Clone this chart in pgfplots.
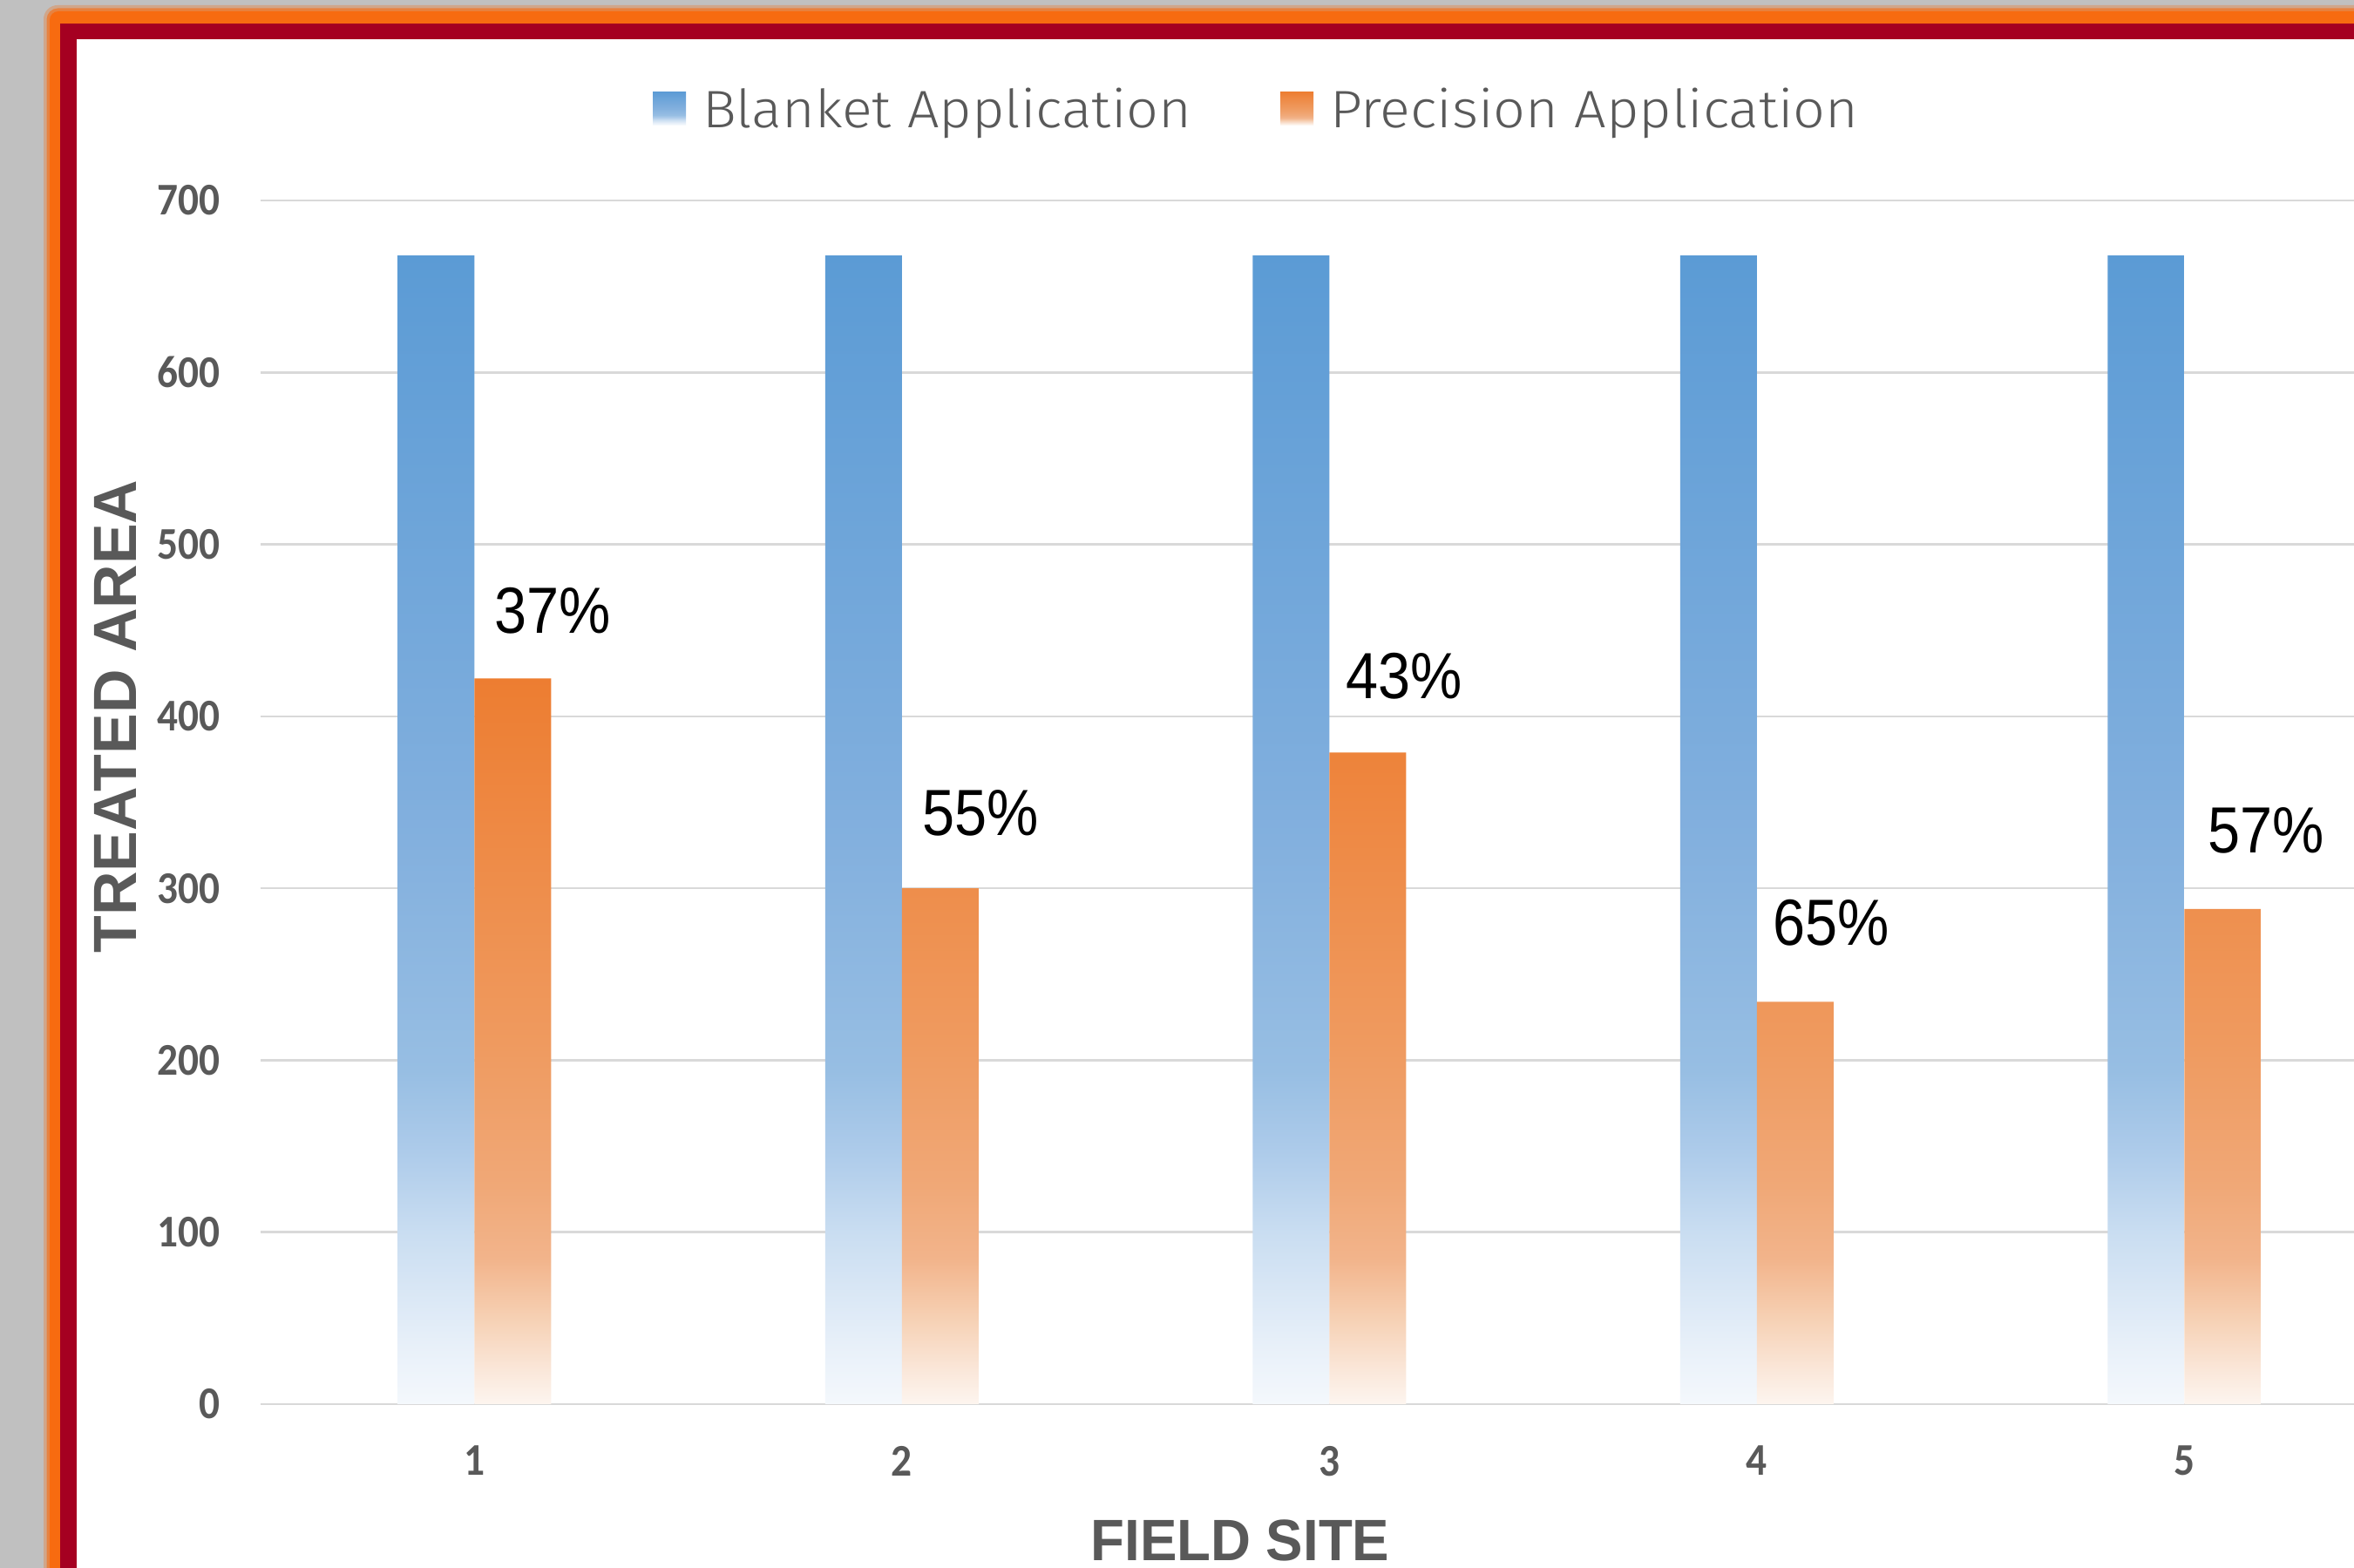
\documentclass[border=0pt]{standalone}
\usepackage{fontspec}
\usepackage{graphicx}
\usepackage{pgfplots}
\usepackage{pgfplotstable}
\pgfplotsset{compat=1.18}

\setmainfont{Liberation Sans}
\newfontfamily\tickfont{Carlito}
\newfontfamily\legendfont{Fira Sans Light}

\definecolor{bggray}{HTML}{C0C0C0}
\definecolor{frameorange}{HTML}{F76B10}
\definecolor{framered}{HTML}{A50021}
\definecolor{textgray}{HTML}{595959}
\definecolor{gridgray}{HTML}{D9D9D9}

% blanket bars: solid blue at the top, fading out towards the base
\definecolor{bA}{HTML}{F4F8FC}
\definecolor{bB}{HTML}{E8F0F9}
\definecolor{bC}{HTML}{C9DDF1}
\definecolor{bD}{HTML}{ADCBEA}
\definecolor{bE}{HTML}{97BEE3}
\definecolor{bF}{HTML}{83B0DE}
\definecolor{bG}{HTML}{5B9BD5}
% precision bars: solid orange at the top, fading out towards the base
\definecolor{oA}{HTML}{FDF5EF}
\definecolor{oB}{HTML}{FAE6D8}
\definecolor{oC}{HTML}{F6D0B3}
\definecolor{oD}{HTML}{F2B48B}
\definecolor{oE}{HTML}{F0A877}
\definecolor{oF}{HTML}{EF9A5F}
\definecolor{oG}{HTML}{ED7D31}

\pgfdeclareverticalshading{blanketshade}{100bp}{%
  color(0bp)=(bA); color(25bp)=(bA); color(27.5bp)=(bB); color(32.5bp)=(bC);
  color(36bp)=(bD); color(39.5bp)=(bE); color(49.5bp)=(bF);
  color(75bp)=(bG); color(100bp)=(bG)}
\pgfdeclareverticalshading{precisionshade}{100bp}{%
  color(0bp)=(oA); color(25bp)=(oA); color(27.5bp)=(oB); color(31bp)=(oC);
  color(35bp)=(oD); color(40bp)=(oE); color(50bp)=(oF);
  color(75bp)=(oG); color(100bp)=(oG)}

\newcommand\sq[1]{\scalebox{0.91}[1]{#1}}
\newcommand\wide[1]{\scalebox{1.07}[1]{#1}}
\newcommand\tickfontsize{\tickfont\bfseries\fontsize{14.8}{16}\selectfont}

% treated area per field site
\pgfplotstableread{
site blanket precision
1 668 422
2 668 300
3 668 379
4 668 234
5 668 288
}\fieldtable

% saving of precision over blanket application, set above each orange bar
\pgfplotstableread{
lx ly pct
1.183 461.5 37
2.185 343.6 55
3.176 423.6 43
4.174 280.1 65
5.192 333.6 57
}\labeltable

\begin{document}
\begin{tikzpicture}
\useasboundingbox (0,0) rectangle (270.1mm,179.9mm);
\clip (0,0) rectangle (270.1mm,179.9mm);
\fill[bggray] (0,0) rectangle (270.1mm,179.9mm);
% frame: soft orange outline, red band, white panel
\fill[frameorange, opacity=0.3, rounded corners=1.6mm] (5.0mm,-5mm) rectangle (290mm,179.3mm);
\fill[frameorange, opacity=0.6, rounded corners=1.3mm] (5.35mm,-5mm) rectangle (290mm,178.95mm);
\fill[frameorange, rounded corners=1mm] (5.7mm,-5mm) rectangle (290mm,178.6mm);
\fill[framered] (6.9mm,-5mm) rectangle (290mm,177.2mm);
\fill[white] (8.8mm,-5mm) rectangle (290mm,175.4mm);

\begin{axis}[
  at={(29.9mm,18.8mm)}, anchor=south west,
  scale only axis, width=245.25mm, height=138.1mm,
  xmin=0.5, xmax=5.5, ymin=0, ymax=700,
  enlargelimits=false, clip=false,
  axis line style={draw=none},
  tick style={draw=none}, major tick length=0pt,
  ymajorgrids, grid style={gridgray, line width=0.25mm},
  xtick={1,2,3,4,5},
  xticklabels={\sq{1},\sq{2},\sq{3},\sq{4},\sq{5}},
  ytick={0,100,200,300,400,500,600,700},
  yticklabels={\sq{0},\sq{100},\sq{200},\sq{300},\sq{400},\sq{500},\sq{600},\sq{700}},
  yticklabel style={font=\tickfontsize, text=textgray, anchor=east, inner sep=0pt, xshift=-4.6mm},
  xticklabel style={font=\tickfontsize, text=textgray, anchor=north, inner sep=0pt, yshift=-4.75mm},
  xlabel={\scalebox{0.95}[1]{FIELD SITE}},
  xlabel style={at={(axis description cs:0.4583,-0.113)}, anchor=center, inner sep=0pt,
    font=\bfseries\fontsize{19.06}{22}\selectfont, text=textgray},
  ylabel={TREATED AREA},
  ylabel style={at={(axis description cs:-0.0681,0.5713)}, anchor=center, inner sep=0pt,
    font=\bfseries\fontsize{19.9}{23}\selectfont, text=textgray},
  legend columns=2,
  legend image code/.code={\path[#1, draw=none] (0mm,-1.9mm) rectangle (3.8mm,1.9mm);},
  legend style={at={(axis description cs:0.1835,1.0767)}, anchor=west,
    draw=none, fill=none, inner sep=0pt, outer sep=0pt,
    font=\legendfont\fontsize{17.2}{20}\selectfont, text=textgray,
    nodes={inner sep=0pt, text depth=0pt},
    /tikz/every odd column/.append style={column sep=1.9mm},
    /tikz/every even column/.append style={column sep=11mm}},
]
\addplot[ybar, bar width=8.8mm, bar shift=-4.4mm, draw=none, shade, shading=blanketshade]
  table[x=site, y=blanket] {\fieldtable};
\addplot[ybar, bar width=8.8mm, bar shift=4.4mm, draw=none, shade, shading=precisionshade]
  table[x=site, y=precision] {\fieldtable};
\addplot[draw=none, mark=none, forget plot,
  point meta=explicit symbolic,
  nodes near coords={\scalebox{0.89}[1]{\pgfplotspointmeta\%}},
  every node near coord/.append style={anchor=center, inner sep=0pt, text=black,
    font=\fontsize{21.3}{25}\selectfont}]
  table[x=lx, y=ly, meta=pct] {\labeltable};
\legend{\makebox[55.3mm][l]{\wide{Blanket Application}}, \makebox[59.4mm][l]{\wide{Precision Application}}}
\end{axis}
\end{tikzpicture}
\end{document}
